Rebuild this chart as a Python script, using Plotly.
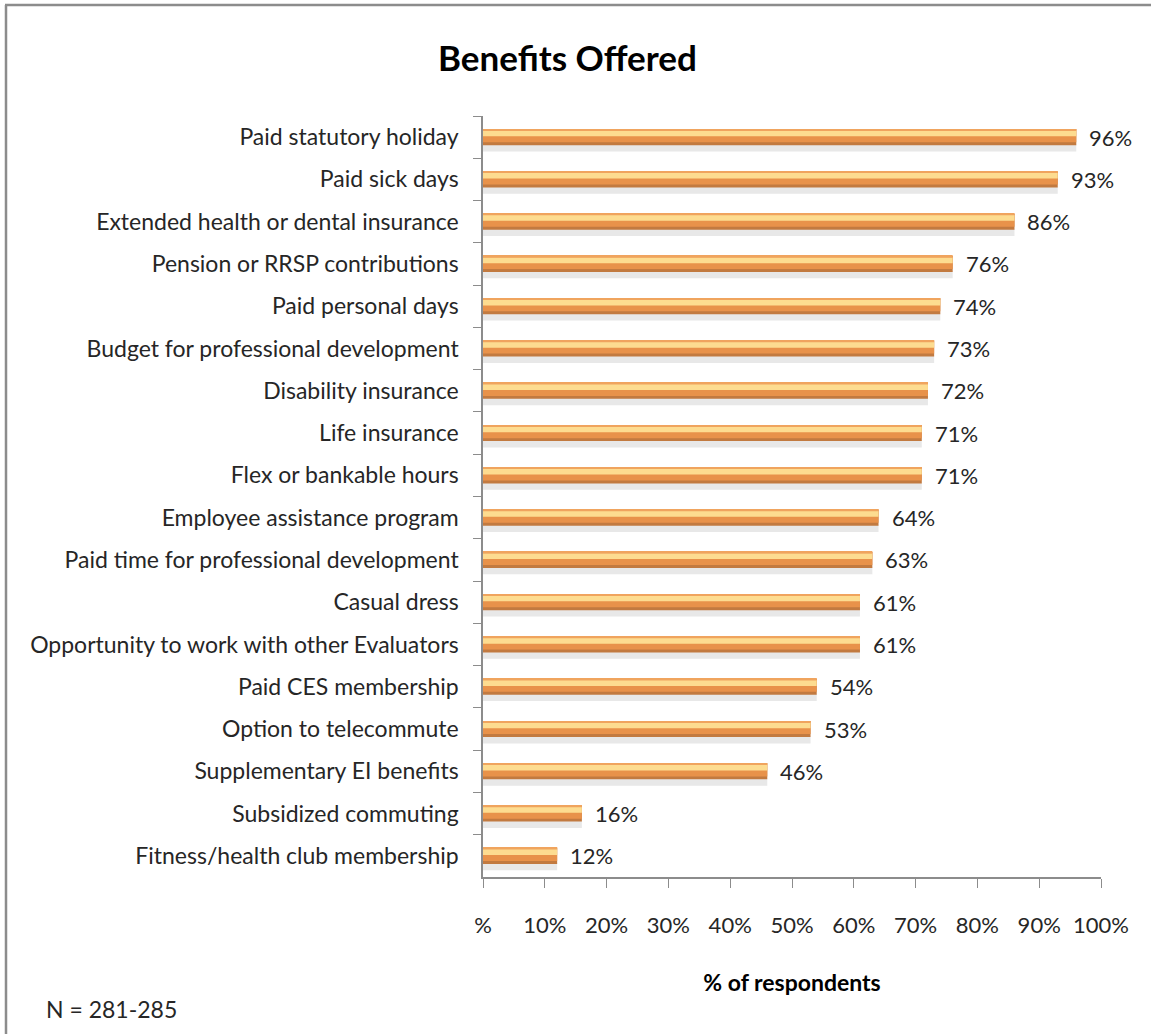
import plotly.graph_objects as go

# Survey results: share of respondents whose employer offers each benefit
benefits = [
    "Paid statutory holiday",
    "Paid sick days",
    "Extended health or dental insurance",
    "Pension or RRSP contributions",
    "Paid personal days",
    "Budget for professional development",
    "Disability insurance",
    "Life insurance",
    "Flex or bankable hours",
    "Employee assistance program",
    "Paid time for professional development",
    "Casual dress",
    "Opportunity to work with other Evaluators",
    "Paid CES membership",
    "Option to telecommute",
    "Supplementary EI benefits",
    "Subsidized commuting",
    "Fitness/health club membership",
]
percent_offered = [96, 93, 86, 76, 74, 73, 72, 71, 71, 64, 63, 61, 61, 54, 53, 46, 16, 12]

x_tick_values = [0, 10, 20, 30, 40, 50, 60, 70, 80, 90, 100]
x_tick_labels = ["%", "10%", "20%", "30%", "40%", "50%", "60%", "70%", "80%", "90%", "100%"]

FONT = "Lato"
TEXT = "#262626"
W, H = 1151, 1034
ML, MR, MT, MB = 483, 50, 116, 157

fig = go.Figure()

# Layered bars give the rounded, glossy cylinder look
layers = [
    # soft drop shadow under each bar
    dict(color="rgba(150,150,150,0.22)", width=0.17, offset=0.17),
    # darker underside
    dict(color="#C27A40", width=0.38, offset=-0.19),
    # main orange body
    dict(color="#E8924A", width=0.31, offset=-0.19),
    # light highlight band
    dict(color="#FDDC90", width=0.14, offset=-0.16),
    # top rim
    dict(color="#F0A45E", width=0.04, offset=-0.19),
]
for i, lay in enumerate(layers):
    fig.add_trace(go.Bar(
        x=percent_offered,
        y=benefits,
        orientation="h",
        marker=dict(color=lay["color"], line=dict(width=0)),
        width=lay["width"],
        offset=lay["offset"],
        hoverinfo="skip" if i != 1 else None,
        showlegend=False,
    ))

# Value labels just past the bar ends
for name, v in zip(benefits, percent_offered):
    fig.add_annotation(
        x=v, y=name, xref="x", yref="y",
        text=f"{v}%", showarrow=False,
        xanchor="left", yanchor="middle", xshift=11,
        font=dict(family=FONT, size=22, color=TEXT),
    )

fig.update_layout(
    width=W,
    height=H,
    barmode="overlay",
    paper_bgcolor="white",
    plot_bgcolor="white",
    margin=dict(l=ML, r=MR, t=MT, b=MB),
    font=dict(family=FONT, size=22, color=TEXT),
)

fig.update_xaxes(
    range=[0, 100],
    tickvals=x_tick_values,
    ticktext=x_tick_labels,
    ticks="outside",
    ticklen=9,
    tickcolor="#8c8c8c",
    showline=True,
    linecolor="#8c8c8c",
    linewidth=1.5,
    showgrid=False,
    zeroline=False,
    ticklabelstandoff=19,
    tickfont=dict(family=FONT, size=22, color=TEXT),
    title=dict(text="<b>% of respondents</b>", font=dict(family=FONT, size=23, color="black"), standoff=38),
)

fig.update_yaxes(
    range=[len(benefits) - 0.5, -0.5],
    tickson="boundaries",
    ticks="outside",
    ticklen=8,
    tickcolor="#8c8c8c",
    showline=True,
    linecolor="#8c8c8c",
    linewidth=1.5,
    showgrid=False,
    ticklabelstandoff=18,
    tickfont=dict(family=FONT, size=23, color=TEXT),
)

# Helpers to place page-level items by pixel position
plot_w = W - ML - MR
plot_h = H - MT - MB
def px_to_paper_x(px):
    return (px - ML) / plot_w
def px_to_paper_y(py):
    return (H - MB - py) / plot_h

fig.add_annotation(text="<b>Benefits Offered</b>", x=px_to_paper_x(567), y=px_to_paper_y(57),
                   xref="paper", yref="paper", showarrow=False, xanchor="center", yanchor="middle",
                   font=dict(family=FONT, size=35, color="black"))
fig.add_annotation(text="N = 281-285", x=px_to_paper_x(44), y=px_to_paper_y(1009),
                   xref="paper", yref="paper", showarrow=False, xanchor="left", yanchor="middle",
                   font=dict(family=FONT, size=23, color=TEXT))

# Frame lines along the top and left edges
fig.add_shape(type="line", xref="paper", yref="paper",
              x0=px_to_paper_x(5), x1=px_to_paper_x(W), y0=px_to_paper_y(5), y1=px_to_paper_y(5),
              line=dict(color="#8c8c8c", width=2.5))
fig.add_shape(type="line", xref="paper", yref="paper",
              x0=px_to_paper_x(6), x1=px_to_paper_x(6), y0=px_to_paper_y(5), y1=px_to_paper_y(H),
              line=dict(color="#8c8c8c", width=2.5))

fig.write_html("out.html")
